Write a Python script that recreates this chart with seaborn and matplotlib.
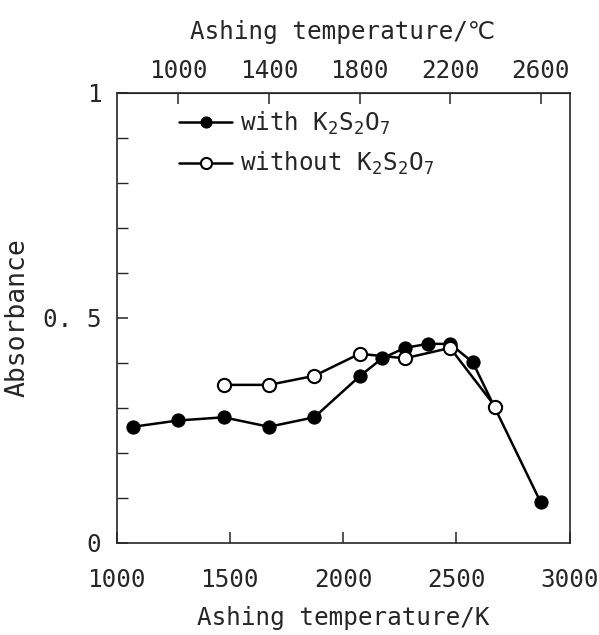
import matplotlib
matplotlib.use("Agg")
import matplotlib.pyplot as plt
import seaborn as sns
import pandas as pd

# Data (Ashing temperature in K, absorbance)
with_T = [1073, 1273, 1473, 1673, 1873, 2073, 2173, 2273, 2373, 2473, 2573, 2873]
with_A = [0.258, 0.272, 0.279, 0.258, 0.279, 0.370, 0.410, 0.433, 0.442, 0.442, 0.401, 0.090]
without_T = [1473, 1673, 1873, 2073, 2273, 2473, 2673]
without_A = [0.351, 0.351, 0.371, 0.420, 0.410, 0.433, 0.302]

bottom_ticks = [1000, 1500, 2000, 2500, 3000]
top_ticks_C = [1000, 1400, 1800, 2200, 2600]
y_major = [0, 0.5, 1]
y_major_labels = ["0", "0. 5", "1"]

sns.set_style("ticks")
plt.rcParams["font.family"] = ["DejaVu Sans Mono", "DejaVu Sans"]
plt.rcParams["mathtext.fontset"] = "custom"
plt.rcParams["mathtext.rm"] = "DejaVu Sans Mono"
plt.rcParams["mathtext.it"] = "DejaVu Sans Mono"

fig = plt.figure(figsize=(5.99, 6.35), dpi=100)
ax = fig.add_axes([0.1945, 0.1449, 0.7563, 0.7094])

df_with = pd.DataFrame({"T": with_T, "A": with_A})
df_without = pd.DataFrame({"T": without_T, "A": without_A})

sns.lineplot(data=df_with, x="T", y="A", ax=ax, color="black", lw=1.8,
             marker="o", markersize=9.5, mfc="black", mec="black",
             label=r"with K$_2$S$_2$O$_7$")
sns.lineplot(data=df_without, x="T", y="A", ax=ax, color="black", lw=1.8,
             marker="o", markersize=9.5, mfc="white", mec="black", mew=1.5,
             label=r"without K$_{2}$S$_{2}$O$_{7}$")

ax.set_xlim(1000, 3000)
ax.set_ylim(0, 1)
ax.set_xticks(bottom_ticks)
ax.set_yticks(y_major)
ax.set_yticklabels(y_major_labels)
ax.set_yticks([0.1, 0.2, 0.3, 0.4, 0.6, 0.7, 0.8, 0.9], minor=True)
ax.tick_params(axis="x", which="major", direction="in", length=8, width=1.1,
               labelsize=17.5, pad=18, top=False)
ax.tick_params(axis="y", which="major", direction="in", length=8, width=1.1,
               labelsize=17.5, pad=11, right=False)
ax.tick_params(axis="y", which="minor", direction="in", length=8, width=1.0)
ax.set_xlabel("Ashing temperature/K", fontsize=17.5, labelpad=10)
ax.set_ylabel("Absorbance", fontsize=19)
ax.yaxis.set_label_coords(-0.19, 0.5)

for s in ax.spines.values():
    s.set_linewidth(1.2)
    s.set_visible(True)

sec = ax.secondary_xaxis("top", functions=(lambda k: k - 273, lambda c: c + 273))
sec.set_xticks(top_ticks_C)
sec.tick_params(direction="in", length=8, width=1.1, labelsize=17.5, pad=7)
sec.set_xlabel("Ashing temperature/℃", fontsize=17.5, labelpad=14)

leg = ax.legend(loc="upper left", frameon=False, fontsize=17.5, handlelength=2.2,
                handletextpad=0.3, borderaxespad=0.3, labelspacing=0.55,
                bbox_to_anchor=(0.1, 1.0))
for h in leg.legend_handles:
    h.set_markersize(8)

fig.savefig("out.png", dpi=100)
